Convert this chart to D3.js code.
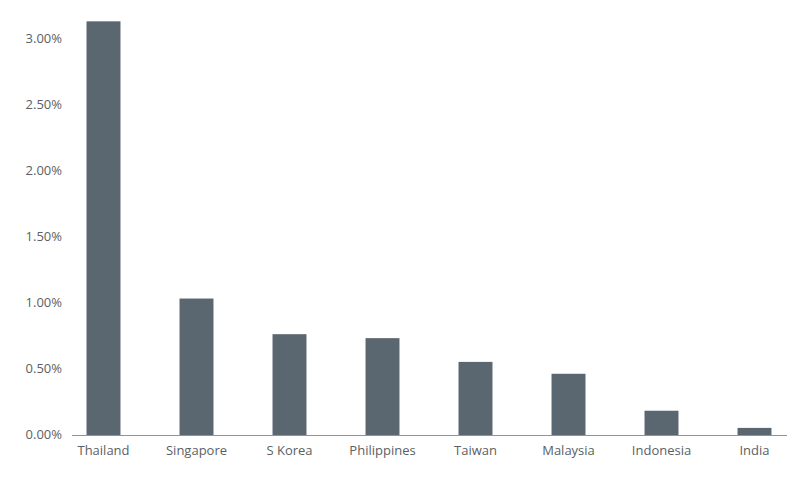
<!DOCTYPE html>
<html>
<head>
<meta charset="utf-8">
<script src="https://cdn.jsdelivr.net/npm/d3@7"></script>
<style>
  html, body { margin: 0; padding: 0; background: #fff; }
  svg { display: block; }
  text { font-family: "Open Sans", "Noto Sans", sans-serif; fill: #5b5f63; }
</style>
</head>
<body>
<svg id="chart" width="810" height="481"></svg>
<script>
// Categories and values (percent)
const countries = ["Thailand", "Singapore", "S Korea", "Philippines", "Taiwan", "Malaysia", "Indonesia", "India"];
const values = [3.13, 1.03, 0.76, 0.73, 0.55, 0.46, 0.18, 0.05];
const yTicks = [0, 0.5, 1.0, 1.5, 2.0, 2.5, 3.0];

const svg = d3.select("#chart");

const x = d3.scaleBand()
  .domain(countries)
  .range([57, 801])
  .paddingInner(0.635)
  .paddingOuter(0.3175);

const y = d3.scaleLinear()
  .domain([0, 3])
  .range([434.5, 38.5]);

// Bars
svg.append("g")
  .selectAll("rect")
  .data(countries)
  .join("rect")
  .attr("x", d => x(d))
  .attr("width", x.bandwidth())
  .attr("y", (d, i) => y(values[i]))
  .attr("height", (d, i) => y(0) - y(values[i]) + 1)
  .attr("fill", "#5a6670");

// Baseline
svg.append("line")
  .attr("x1", 72).attr("x2", 787)
  .attr("y1", 435.5).attr("y2", 435.5)
  .attr("stroke", "#8c959c")
  .attr("stroke-width", 1.2);

// Y axis labels
const yAxis = d3.axisLeft(y)
  .tickValues(yTicks)
  .tickFormat(d => d3.format(".2f")(d) + "%")
  .tickSize(0)
  .tickPadding(0);

const gy = svg.append("g")
  .attr("transform", "translate(62,0)")
  .call(yAxis);
gy.select(".domain").remove();
gy.selectAll("text")
  .style("font-family", "'Open Sans', 'Noto Sans', sans-serif")
  .style("font-size", "13px")
  .style("fill", "#5b5f63");

// X axis labels
const xAxis = d3.axisBottom(x).tickSize(0).tickPadding(0);
const gx = svg.append("g")
  .attr("transform", "translate(0,446)")
  .call(xAxis);
gx.select(".domain").remove();
gx.selectAll("text")
  .style("font-family", "'Open Sans', 'Noto Sans', sans-serif")
  .style("font-size", "13px")
  .style("fill", "#5b5f63");
</script>
</body>
</html>
